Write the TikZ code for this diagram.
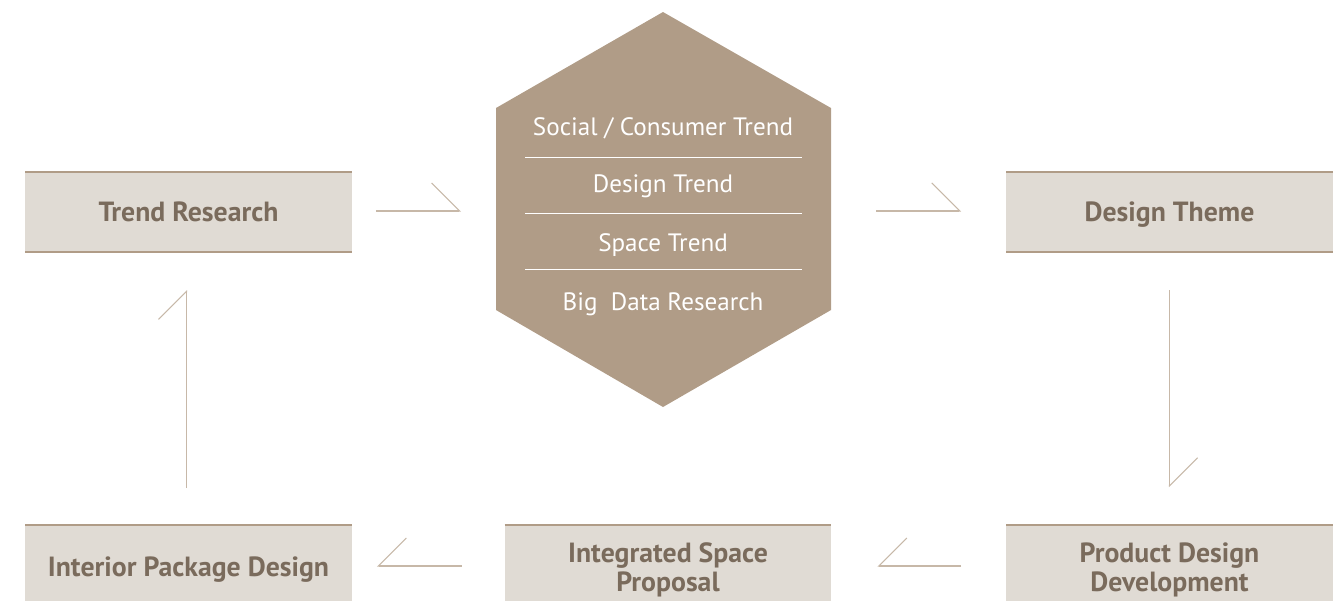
\documentclass[tikz,border=0pt]{standalone}
\usepackage{fontspec}
\setmainfont{PT Sans}
\usepackage{tikz}
\usetikzlibrary{arrows.meta}
\usetikzlibrary{calc}

\definecolor{hexfill}{HTML}{B09C87}
\definecolor{boxfill}{HTML}{E0DBD4}
\definecolor{boxtext}{HTML}{7A6B5C}
\definecolor{flowline}{HTML}{C7B8A8}

\begin{document}
\begin{tikzpicture}[x=0.02cm, y=-0.02cm, outer sep=0pt]
          \newcommand{\boxwidth}{6.54cm}
          \newcommand{\boxheight}{1.6cm}
          \newcommand{\barb}{16pt}

          \tikzstyle{stage}=[
            fill=boxfill,
            minimum width=\boxwidth,
            minimum height=\boxheight,
            inner sep=0pt,
            text depth=0pt,
            align=center,
            text=boxtext,
            font=\fontsize{15.8}{16.5}\selectfont\bfseries
          ]
          \tikzstyle{low}=[minimum height=1.68cm]
          \tikzstyle{trend}=[
            inner sep=0pt,
            text=white,
            font=\fontsize{14.3}{16}\selectfont
          ]
          \tikzstyle{rule} = [line width=1.2pt, draw=hexfill]
          \tikzstyle{sep} = [line width=0.55pt, draw=white]
          \tikzstyle{flow} = [line width=0.6pt, draw=flowline]
          \tikzstyle{tipl} = [-{Straight Barb[left, length=\barb, width=2*\barb]}]
          \tikzstyle{tipr} = [-{Straight Barb[right, length=\barb, width=2*\barb]}]

          \useasboundingbox (0,0) rectangle (1342,600);

          % hexagon
          \coordinate (htop) at (663,12);
          \coordinate (hur) at (831,108);
          \coordinate (hlr) at (831,310);
          \coordinate (hbot) at (663,407);
          \coordinate (hll) at (496,310);
          \coordinate (hul) at (496,108);
          \coordinate (hexw) at (496,211);
          \coordinate (hexe) at (831,211);
          \fill[hexfill] (htop) -- (hur) -- (hlr) -- (hbot) -- (hll) -- (hul) -- cycle;

          \node[trend] (social) at (663,128) {Social / Consumer Trend};
          \node[trend] (design) at (663,186) {Design Trend};
          \node[trend] (space) at (663,245) {Space Trend};
          \node[trend] (bigdata) at (663,304) {Big\ \ Data Research};
          \draw[sep] (525,157) -- (802,157);
          \draw[sep] (525,213) -- (802,213);
          \draw[sep] (525,269) -- (802,269);

          % stages
          \node[stage] (research) at (188.5,212) {Trend Research};
          \node[stage] (theme) at (1169.5,212) {Design Theme};
          \node[stage, low] (product) at (1169.5,567) {Product Design\\Development};
          \node[stage, low] (proposal) at (668,567) {Integrated Space\\Proposal};
          \node[stage, low] (interior) at (188.5,567) {Interior Package Design};

          \draw[rule] (research.north west) -- (research.north east);
          \draw[rule] (research.south west) -- (research.south east);
          \draw[rule] (theme.north west) -- (theme.north east);
          \draw[rule] (theme.south west) -- (theme.south east);
          \draw[rule] (product.north west) -- (product.north east);
          \draw[rule] (proposal.north west) -- (proposal.north east);
          \draw[rule] (interior.north west) -- (interior.north east);

          % cycle
          \draw[flow, tipl] ($(research.east)+(24,-1)$) -- ($(hexw)+(-35,0)$);
          \draw[flow, tipl] ($(hexe)+(45,0)$) -- ($(theme.west)+(-45,-1)$);
          \draw[flow, tipl] ($(theme.south)+(0,38)$) -- ($(product.north)+(0,-38)$);
          \draw[flow, tipr] ($(product.west)+(-45,-1)$) -- ($(proposal.east)+(46,-1)$);
          \draw[flow, tipr] ($(proposal.west)+(-43,-1)$) -- ($(interior.east)+(25,-1)$);
          \draw[flow, tipl] ($(interior.north)+(-2,-37)$) -- ($(research.south)+(-2,38)$);

        \end{tikzpicture}
\end{document}
